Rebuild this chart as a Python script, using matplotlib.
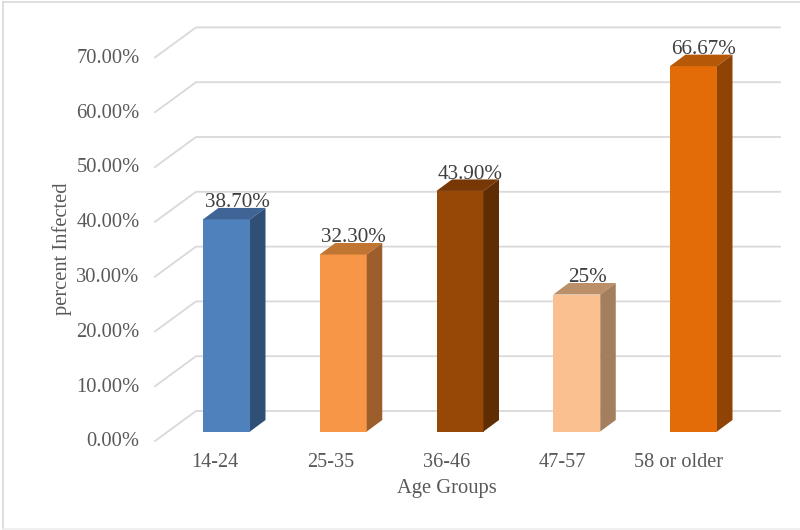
import matplotlib
matplotlib.use("Agg")
import matplotlib.pyplot as plt
from matplotlib.patches import Polygon, Rectangle

age_groups = ["14-24", "25-35", "36-46", "47-57", "58 or older"]
infected = [38.7, 32.3, 43.9, 25.0, 66.67]
bar_labels = ["38.70%", "32.30%", "43.90%", "25%", "66.67%"]
front_colors = ["#4f81bd", "#f79646", "#974706", "#fac090", "#e36c09"]
top_colors = ["#3e6595", "#c07532", "#773805", "#bb9069", "#b55807"]
side_colors = ["#2f4f77", "#9c5e2b", "#5f2d04", "#a37f5d", "#8f4406"]
y_ticks = [0, 10, 20, 30, 40, 50, 60, 70]

plt.rcParams["font.family"] = ["Liberation Serif", "DejaVu Serif"]
text_color = "#404040"
label_color = "#595959"
grid_color = "#d9d9d9"

fig = plt.figure(figsize=(8, 5.3), dpi=100)
ax = fig.add_axes([0, 0, 1, 1])
ax.set_xlim(0, 800)
ax.set_ylim(530, 0)
ax.axis("off")

# fake 3d projection drawn in pixel space
y0 = 431.5
per_unit = 5.48
dx, dy = 15.5, 11.5
bar_w = 47
bar_start = 203
bar_step = 116.75


def val_y(v):
    return y0 - v * per_unit


# outer frame of the pasted chart
ax.plot([3, 3], [1.5, 529], color=grid_color, lw=1.2, zorder=1)
ax.plot([3, 800], [1.5, 1.5], color=grid_color, lw=1.2, zorder=1)
ax.plot([3, 800], [529, 529], color="#eeeeee", lw=1.2, zorder=1)

for t in y_ticks:
    y = val_y(t)
    ax.plot([155, 196, 780], [y + 9.5, y - 20.5, y - 20.5], color=grid_color, lw=1.3, zorder=1)
    ax.text(139.5, y + 10.5, f"{t:.2f}%", ha="right", va="center", fontsize=14.8, color=label_color)

for i, v in enumerate(infected):
    left = bar_start + i * bar_step
    right = left + bar_w
    top = val_y(v)
    ax.add_patch(Rectangle((left, top), bar_w, y0 - top, fc=front_colors[i], ec="none", zorder=3))
    ax.add_patch(Polygon([(left, top), (right, top), (right + dx, top - dy), (left + dx, top - dy)],
                         fc=top_colors[i], ec="none", zorder=3))
    ax.add_patch(Polygon([(right, top), (right + dx, top - dy), (right + dx, y0 - dy), (right, y0)],
                         fc=side_colors[i], ec="none", zorder=3))
    ax.text(left + 34, top - 16.5, bar_labels[i], ha="center", va="center", fontsize=15.2,
            color=text_color, zorder=4)
    ax.text(214.7 + i * 115.9, 462.5, age_groups[i], ha="center", va="center",
            fontsize=14.6, color=label_color)

ax.text(446.5, 488, "Age Groups", ha="center", va="center", fontsize=14.8, color=label_color)
ax.text(62.5, 249, "percent Infected", ha="center", va="center", rotation=90, fontsize=14.8, color=label_color)

fig.savefig("out.png", dpi=100)
